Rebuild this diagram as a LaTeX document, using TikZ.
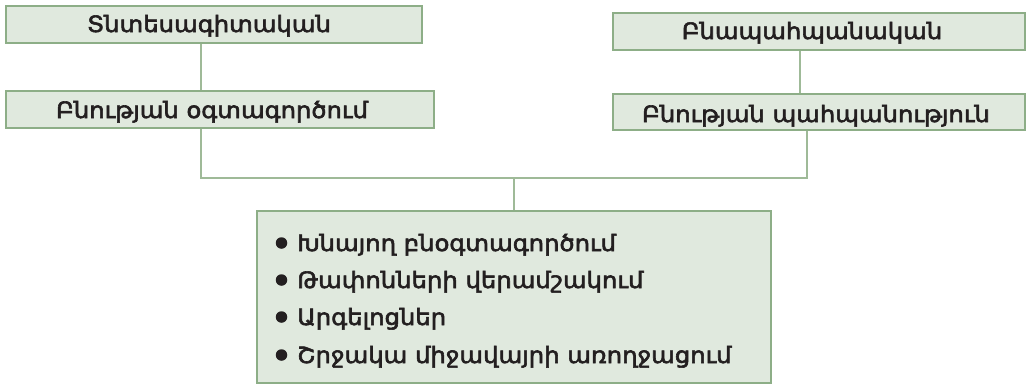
\documentclass[tikz,border=0pt]{standalone}
\usepackage{fontspec}
\setmainfont{DejaVu Sans}[FakeStretch=1.08, FakeBold=2.6]
\definecolor{boxfill}{HTML}{E0E9DE}
\definecolor{boxline}{HTML}{8DAE87}
\definecolor{linkline}{HTML}{9FBA98}
\definecolor{txt}{HTML}{231F20}
\begin{document}
\begin{tikzpicture}[x=1pt,y=-1pt,
  panel/.style={draw=boxline, fill=boxfill, line width=1.3pt, inner sep=0pt, rectangle},
  lbl/.style={font=\fontsize{22.5}{26}\selectfont, text=txt, inner sep=0pt, anchor=base},
  item/.style={font=\fontsize{22.5}{26}\selectfont, text=txt, inner sep=0pt, anchor=base west},
  dot/.style={circle, fill=txt, inner sep=0pt, minimum size=11.5pt},
  link/.style={draw=linkline, line width=1.3pt}]
\useasboundingbox (0,0) rectangle (1026,384);
% boxes
\node[panel, minimum width=416pt, minimum height=37pt] (A) at (214,24.5) {};
\node[panel, minimum width=428pt, minimum height=37pt] (B) at (220,109.5) {};
\node[panel, minimum width=412pt, minimum height=37pt] (C) at (819,31.5) {};
\node[panel, minimum width=412pt, minimum height=36pt] (D) at (819,112) {};
\node[panel, minimum width=514pt, minimum height=172pt] (E) at (514,297) {};
% labels
\node[lbl] (tA) at (209,32) {Տնտեսագիտական};
\node[lbl] (tB) at (212,118) {Բնության օգտագործում};
\node[lbl] (tC) at (812,39) {Բնապահպանական};
\node[lbl] (tD) at (816,122) {Բնության պահպանություն};
\node[dot] (b1) at (281.5,243) {};
\node[dot] (b2) at (281.5,280) {};
\node[dot] (b3) at (281.5,317) {};
\node[dot] (b4) at (281.5,355) {};
\node[item] (i1) at (297,251) {Խնայող բնօգտագործում};
\node[item] (i2) at (297,288) {Թափոնների վերամշակում};
\node[item] (i3) at (297,325) {Արգելոցներ};
\node[item] (i4) at (297,363) {Շրջակա միջավայրի առողջացում};
% connectors
\coordinate (xl) at (201,0);
\coordinate (xc) at (800,0);
\coordinate (xr) at (807,0);
\coordinate (xm) at (514,0);
\coordinate (hy) at (0,178);
\draw[link] (A.south -| xl) -- (B.north -| xl);
\draw[link] (C.south -| xc) -- (D.north -| xc);
\draw[link] (B.south -| xl) |- (hy -| xr) -- (D.south -| xr);
\draw[link] (hy -| xm) -- (E.north -| xm);
\end{tikzpicture}
\end{document}
